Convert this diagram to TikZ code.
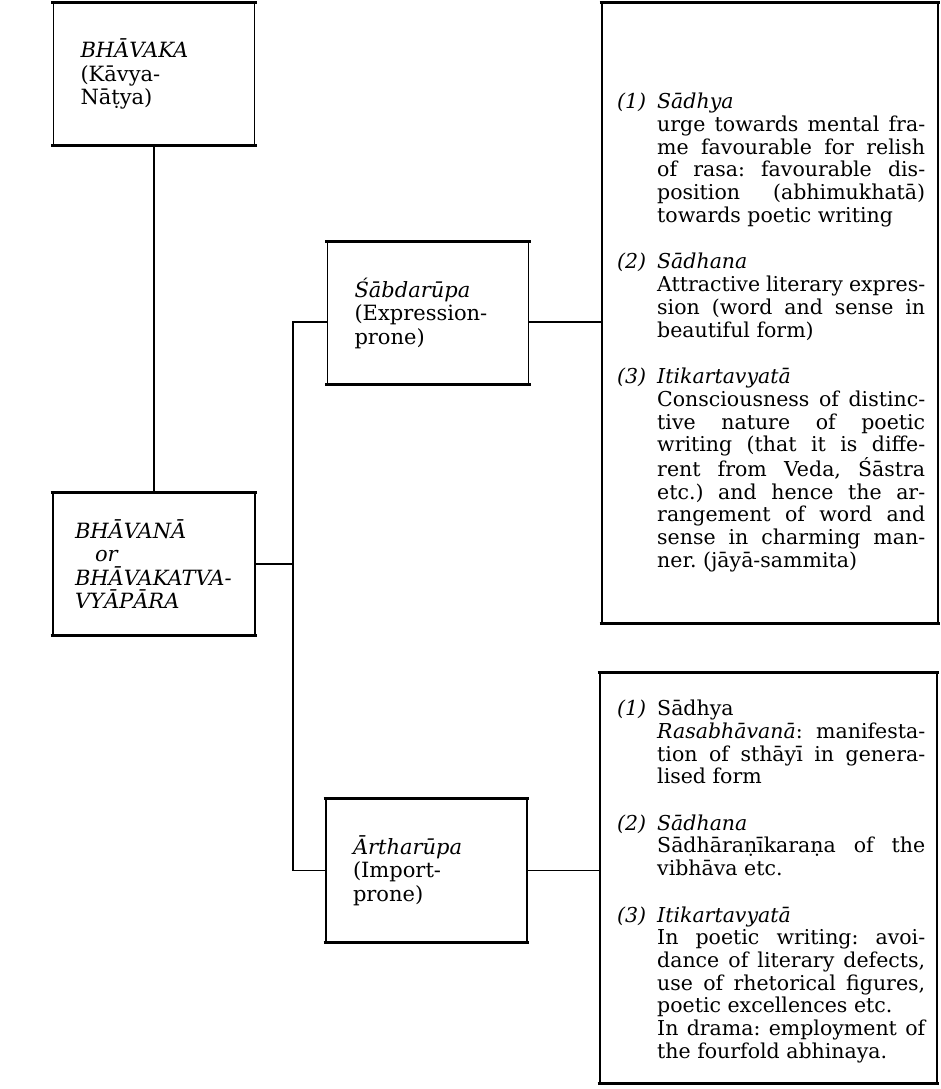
\documentclass[tikz,border=0pt]{standalone}
\usepackage{fontspec}
\setmainfont{DejaVu Serif}
\usetikzlibrary{positioning}
\tolerance=10000
\hbadness=10000
\frenchspacing

\newcommand{\entry}[2]{\hangindent=40pt\hangafter=1\noindent\makebox[40pt][l]{\textit{(#1)}}#2\newline}

\tikzset{
  rule/.style={line width=3pt, shorten <=-1.5pt, shorten >=-1.5pt},
  frame/.style={draw, line width=1.8pt, inner sep=0pt,
    append after command={
      (\tikzlastnode.north west) edge[rule] (\tikzlastnode.north east)
      (\tikzlastnode.south west) edge[rule] (\tikzlastnode.south east)}},
  termbox/.style={frame, inner xsep=27pt, text width=147pt, minimum height=142pt,
    align=left, font=\fontsize{21}{23.5}\selectfont},
  notes/.style={inner sep=0pt, anchor=north west,
    font=\fontsize{20.5}{22.7}\selectfont},
  link/.style={line width=1.8pt},
}

\begin{document}
\begin{tikzpicture}[x=1pt,y=-1pt]
\fill[white] (0,0) rectangle (941,1089);
\useasboundingbox (0,0) rectangle (941,1089);

\node[termbox] (bhavaka) at (154,74) {\textit{BHĀVAKA}\\(Kāvya-\\Nāṭya)};
\node[termbox,inner xsep=22pt,text width=158pt] (bhavana) at (154,564)
  {\itshape BHĀVANĀ\\\hspace*{20pt}or\\BHĀVAKATVA-\\VYĀPĀRA};
\node[termbox] (sabda) at (428,313) {\textit{Śābdarūpa}\\(Expression-\\prone)};
\node[termbox] (artha) at (426.5,870.5) {\textit{Ārtharūpa}\\(Import-\\prone)};

\node[frame,minimum width=336pt,minimum height=620pt] (sabdanote) at (770,313) {};
\node[frame,minimum width=337pt,minimum height=410pt] (arthanote) at (768.5,878) {};

\node[notes] (sabdalist) at (617,93) {\parbox[t]{308pt}{%
\entry{1}{\textit{Sādhya}}
urge towards mental fra-\linebreak
me favourable for relish\linebreak
of rasa: favourable dis-\linebreak
position (abhimukhatā)\linebreak
towards poetic writing\par\vspace{24pt}
\entry{2}{\textit{Sādhana}}
Attractive literary expres-\linebreak
sion (word and sense in\linebreak
beautiful form)\par\vspace{24pt}
\entry{3}{\textit{Itikartavyatā}}
Consciousness of distinc-\linebreak
tive nature of poetic\linebreak
writing (that it is diffe-\linebreak
rent from Veda, Śāstra\linebreak
etc.) and hence the ar-\linebreak
rangement of word and\linebreak
sense in charming man-\linebreak
ner. (jāyā-sammita)}};

\node[notes] (arthalist) at (617,700) {\parbox[t]{308pt}{%
\entry{1}{Sādhya}
\textit{Rasabhāvanā}: manifesta-\linebreak
tion of sthāyī in genera-\linebreak
lised form\par\vspace{23.5pt}
\entry{2}{\textit{Sādhana}}
Sādhāraṇīkaraṇa of the\linebreak
vibhāva etc.\par\vspace{24pt}
\entry{3}{\textit{Itikartavyatā}}
In poetic writing: avoi-\linebreak
dance of literary defects,\linebreak
use of rhetorical figures,\linebreak
poetic excellences etc.\newline
In drama: employment of\linebreak
the fourfold abhinaya.}};

\coordinate (fork) at (293,564);
\coordinate (sabdajoin) at ([yshift=-9pt]sabda.west);
\coordinate (sabdaout) at ([yshift=-9pt]sabda.east);

\draw[link] (bhavaka) -- (bhavana);
\draw[link] (bhavana.east) -- (fork);
\draw[link] (sabdajoin) -| (fork) |- (artha.west);
\draw[link] (sabdaout) -- (sabdaout -| sabdanote.west);
\draw[link] (artha.east) -- (artha.east -| arthanote.west);
\end{tikzpicture}
\end{document}
